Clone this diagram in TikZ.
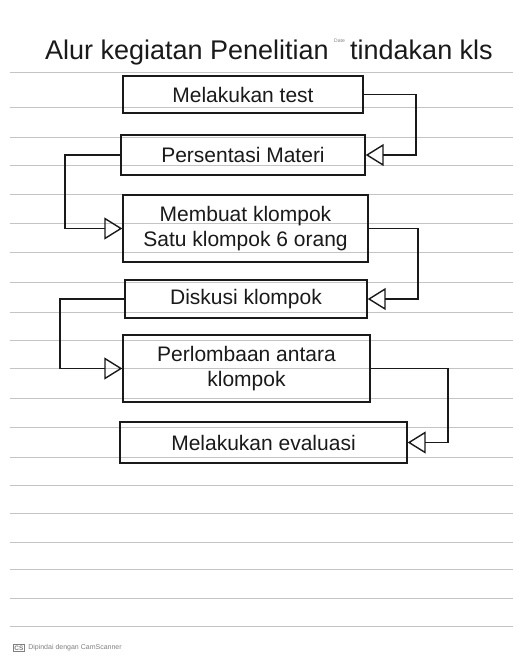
\documentclass[tikz,border=0pt]{standalone}
\usepackage{fontspec}
\setmainfont{Liberation Sans}
\usetikzlibrary{arrows.meta}
\definecolor{ink}{HTML}{1A1A1A}
\definecolor{ruling}{HTML}{C4C4C4}
\begin{document}
\begin{tikzpicture}[x=1pt,y=-1pt,
  stepbox/.style={draw=ink,line width=1.4pt,inner sep=2pt,align=center,
    font=\fontsize{21}{25}\selectfont,text=ink},
  link/.style={draw=ink,line width=1.4pt,
    -{Triangle[open,length=18pt,width=22pt,line width=1.4pt]}},
  titletext/.style={font=\fontsize{27}{30}\selectfont,text=ink,inner sep=0pt},
  paperline/.style={draw=ruling,line width=0.6pt}]
\useasboundingbox (0,0) rectangle (513,656);
\fill[white] (0,0) rectangle (513,656);
% ruled paper
\foreach \yy in {72,107,137,165,194,223,252,282,312,340,368,398,427,457,485,513,542,569,598,626}
  \draw[paperline] (10,\yy) -- (513,\yy);
% title
\node[titletext,anchor=base east] (title) at (329,59) {Alur kegiatan Penelitian};
\node[titletext,anchor=base west] (title2) at (350,59) {tindakan kls};
\node[font=\fontsize{5}{6}\selectfont,text=gray,inner sep=0pt] (date) at (339.5,41) {Date};
% boxes
\node[stepbox,minimum width=240pt,minimum height=37pt] (b1) at (243,94.5) {Melakukan test};
\node[stepbox,minimum width=244pt,minimum height=40pt] (b2) at (243,155) {Persentasi Materi};
\node[stepbox,minimum width=245pt,minimum height=67pt] (b3) at (245.5,228.5) {Membuat klompok\\Satu klompok 6 orang};
\node[stepbox,minimum width=242pt,minimum height=38pt] (b4) at (246,299) {Diskusi klompok};
\node[stepbox,minimum width=247pt,minimum height=67pt] (b5) at (246.5,368.5) {Perlombaan antara\\klompok};
\node[stepbox,minimum width=287pt,minimum height=41pt] (b6) at (263.5,442.5) {Melakukan evaluasi};
% turning columns
\coordinate (r1) at (416,0);
\coordinate (l2) at (65,0);
\coordinate (r3) at (418,0);
\coordinate (l4) at (60,0);
\coordinate (r5) at (448,0);
% connectors
\draw[link] (b1.east) -- (b1.east -| r1) |- (b2.east);
\draw[link] (b2.west) -- (b2.west -| l2) |- (b3.west);
\draw[link] (b3.east) -- (b3.east -| r3) |- (b4.east);
\draw[link] (b4.west) -- (b4.west -| l4) |- (b5.west);
\draw[link] (b5.east) -- (b5.east -| r5) |- (b6.east);
% scanner footer
\node[draw=gray,line width=0.5pt,inner sep=1pt,font=\fontsize{6.5}{7}\selectfont\bfseries,text=gray] (cs) at (19,648) {CS};
\node[anchor=west,font=\fontsize{7}{8}\selectfont,text=gray] (scan) at (cs.east) {Dipindai dengan CamScanner};
\end{tikzpicture}
\end{document}
